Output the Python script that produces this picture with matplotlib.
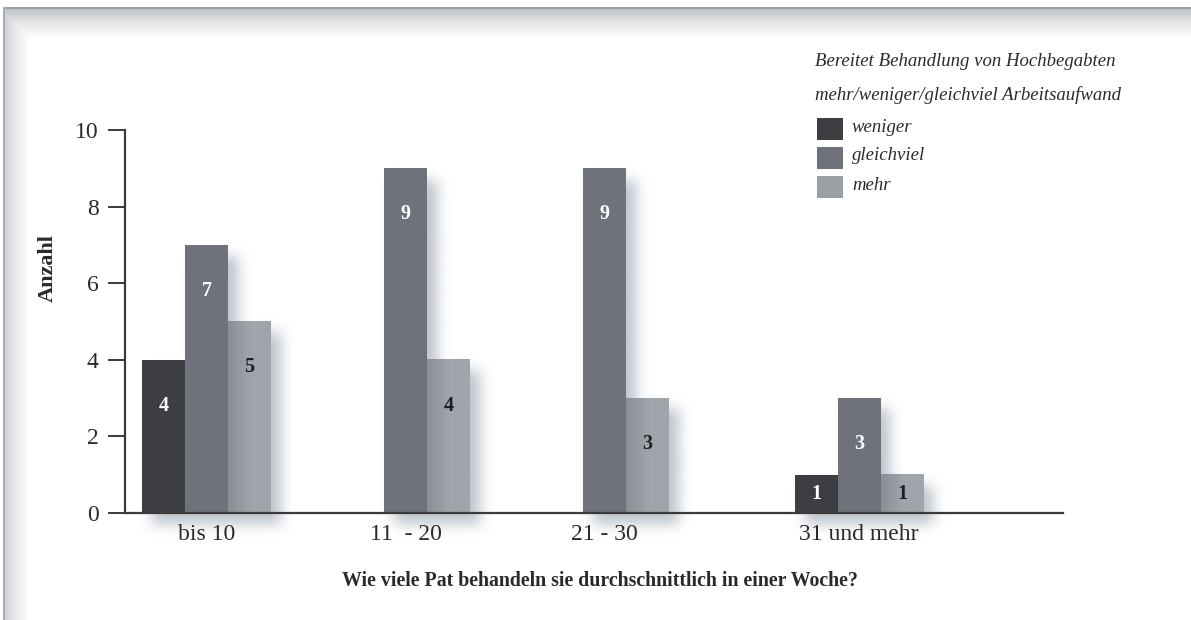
import numpy as np
import matplotlib
matplotlib.use("Agg")
import matplotlib.pyplot as plt
from matplotlib.patches import Rectangle
from matplotlib.colors import to_rgb

# --- data -------------------------------------------------------------
categories = ["bis 10", "11  - 20", "21 - 30", "31 und mehr"]
series_names = ["weniger", "gleichviel", "mehr"]
weniger = [4, 0, 0, 1]
gleichviel = [7, 9, 9, 3]
mehr = [5, 4, 3, 1]
y_ticks = [0, 2, 4, 6, 8, 10]

legend_title = "Bereitet Behandlung von Hochbegabten\nmehr/weniger/gleichviel Arbeitsaufwand"
x_title = "Wie viele Pat behandeln sie durchschnittlich in einer Woche?"
y_title = "Anzahl"

# --- style ------------------------------------------------------------
W, H, DPI = 1191, 620, 100
FONT = "Liberation Serif"
plt.rcParams["font.family"] = [FONT, "DejaVu Serif"]
colors = {"weniger": "#3d3e42", "gleichviel": "#6f727a", "mehr": "#9a9fa5"}
ink = "#2a2a2c"

group_pos = np.array([0.0, 1.0, 2.0, 3.28])
bar_w = 0.216
offsets = [-bar_w, 0.0, bar_w]
series = [weniger, gleichviel, mehr]

fig = plt.figure(figsize=(W / DPI, H / DPI), dpi=DPI)

# page background with a soft inner shadow along the top and left edges
bg = fig.add_axes([0, 0, 1, 1], zorder=-10)
bg.set_axis_off()
yy, xx = np.mgrid[0:H, 0:W].astype(float)
top = np.clip((yy - 9) / 32.0, 0, 1)
left = np.clip((xx - 5) / 27.0, 0, 1)
shade = 0.55 * (1 - top) ** 1.5
shade = np.maximum(shade, 0.42 * (1 - left) ** 1.5)
base = np.array(to_rgb("#8e949c"))
img = 1 - shade[..., None] * (1 - base)
img[yy < 8] = 1.0
img[xx < 4] = 1.0
img[(yy >= 7) & (yy < 9) & (xx >= 4)] = to_rgb("#9a9da2")
img[(xx >= 3) & (xx < 5) & (yy >= 7)] = to_rgb("#a9acb0")
bg.imshow(img, extent=[0, W, H, 0], aspect="auto", interpolation="bilinear")
bg.set_xlim(0, W)
bg.set_ylim(H, 0)

# --- main axes --------------------------------------------------------
ax_l, ax_r, ax_b, ax_t = 125, 1063, 513, 130
ax = fig.add_axes([ax_l / W, 1 - ax_b / H, (ax_r - ax_l) / W, (ax_b - ax_t) / H])
ax.set_facecolor("none")
x0 = -81.5 / 199
x1 = x0 + (ax_r - ax_l) / 199
ax.set_xlim(x0, x1)
ax.set_ylim(0, 10)

px_x = (ax_r - ax_l) / (x1 - x0)
px_y = (ax_b - ax_t) / 10.0

# soft drop shadow behind the bars, computed on a pixel grid in data units
gx0, gx1 = x0, x1
gy0, gy1 = -1.2, 10.0
nx = int((gx1 - gx0) * px_x)
ny = int((gy1 - gy0) * px_y)
gxs = np.linspace(gx0, gx1, nx)
gys = np.linspace(gy1, gy0, ny)
mask = np.zeros((ny, nx))
sh_dx, sh_dy = 10 / px_x, 11 / px_y
for vals, off in zip(series, offsets):
    for g, v in zip(group_pos, vals):
        if v <= 0:
            continue
        xa, xb = g + off - bar_w / 2 + sh_dx, g + off + bar_w / 2 + sh_dx
        ya, yb = -sh_dy, v - sh_dy
        cols = (gxs >= xa) & (gxs <= xb)
        rows = (gys >= ya) & (gys <= yb)
        mask[np.ix_(rows, cols)] = 1.0


def box_blur(a, r, axis):
    k = np.ones(2 * r + 1) / (2 * r + 1)
    return np.apply_along_axis(lambda m: np.convolve(m, k, mode="same"), axis, a)


for _ in range(3):
    mask = box_blur(mask, 6, 0)
    mask = box_blur(mask, 6, 1)
shadow = np.zeros((ny, nx, 4))
shadow[..., :3] = to_rgb("#a3adb8")
shadow[..., 3] = mask * 0.72
ax.imshow(shadow, extent=[gx0, gx1, gy0, gy1], aspect="auto", zorder=1,
          clip_on=False, interpolation="bilinear")

# bars
for name, vals, off in zip(series_names, series, offsets):
    for g, v in zip(group_pos, vals):
        if v <= 0:
            continue
        xl = g + off - bar_w / 2
        if name == "mehr":
            # light bars carry a faint horizontal gradient
            grad = np.linspace(0, 1, 64)
            c0 = np.array(to_rgb("#8b9097"))
            c1 = np.array(to_rgb("#a0a5ab"))
            t = np.clip(grad / 0.55, 0, 1)[None, :, None]
            gimg = c0 + (c1 - c0) * t
            ax.imshow(gimg, extent=[xl, xl + bar_w, 0, v], aspect="auto",
                      zorder=2, interpolation="bilinear")
        else:
            ax.add_patch(Rectangle((xl, 0), bar_w, v, facecolor=colors[name],
                                   edgecolor="none", zorder=2))
        ly = v - min(1.2, v / 2)
        tc = "white" if name != "mehr" else "#1e1e20"
        ax.text(g + off, ly, str(v), ha="center", va="center", fontsize=14.5,
                fontweight="bold", color=tc, zorder=3)

ax.set_xlim(x0, x1)
ax.set_ylim(0, 10)

# axes styling
for s in ("top", "right"):
    ax.spines[s].set_visible(False)
for s in ("left", "bottom"):
    ax.spines[s].set_color("#3a3a3c")
    ax.spines[s].set_linewidth(1.6)
    ax.spines[s].set_zorder(4)
ax.set_yticks(y_ticks)
ax.set_yticklabels([str(t) for t in y_ticks], fontsize=17, color=ink)
ax.tick_params(axis="y", direction="out", length=12, width=1.4,
               color="#3a3a3c", pad=7)
ax.set_xticks(group_pos)
ax.set_xticklabels(categories, fontsize=17, color=ink)
ax.tick_params(axis="x", length=0, pad=8)

fig.text(600 / W, 1 - 581 / H, x_title, ha="center", va="center",
         fontsize=14.3, fontweight="bold", color=ink)
fig.text(48 / W, 1 - 268 / H, y_title, ha="center", va="center",
         rotation=90, fontsize=16, fontweight="bold", color=ink)

# legend
fig.text(815 / W, 1 - 62 / H, legend_title.split("\n")[0], ha="left",
         va="center", fontsize=13.5, style="italic", color=ink)
fig.text(815 / W, 1 - 95 / H, legend_title.split("\n")[1], ha="left",
         va="center", fontsize=13.5, style="italic", color=ink)
for i, name in enumerate(series_names):
    cy = 129 + i * 29
    fig.add_artist(Rectangle((817 / W, 1 - (cy + 11) / H), 26 / W, 22 / H,
                             transform=fig.transFigure,
                             facecolor=colors[name], edgecolor="none"))
    fig.text(852 / W, 1 - (cy - 2) / H, name, ha="left", va="center",
             fontsize=13.5, style="italic", color=ink)

fig.savefig("out.png", dpi=DPI)
